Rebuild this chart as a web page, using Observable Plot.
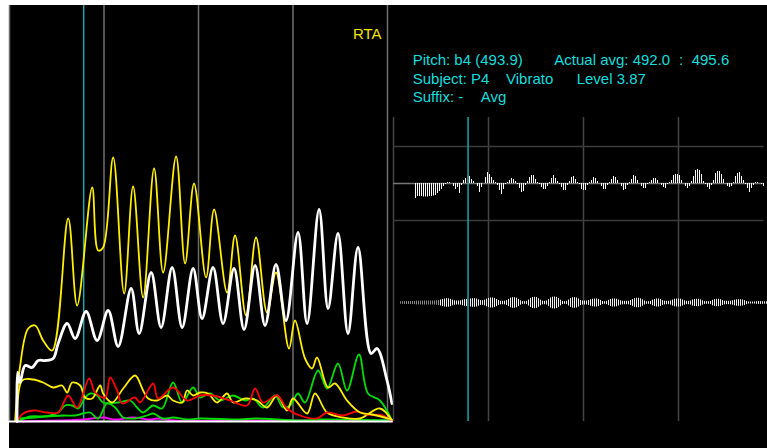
<!DOCTYPE html>
<html><head><meta charset="utf-8">
<script src="https://cdn.jsdelivr.net/npm/d3@7"></script>
<script src="https://cdn.jsdelivr.net/npm/@observablehq/plot@0.6"></script>
<style>
html,body{margin:0;padding:0;background:#fff;}
#wrap{position:relative;width:767px;height:448px;overflow:hidden;background:#fff;}
#bg{position:absolute;left:9px;top:5px;right:0;bottom:0;background:#000;}
.info{position:absolute;color:#12dede;font:15px "Liberation Sans",Arial,sans-serif;line-height:19px;white-space:pre;}
</style></head>
<body><div id="wrap"><div id="bg"></div></div>
<script>
// ---- time grid (seconds) ----
const gridTimes = [0, 1, 2, 3, 4];
const rightGridTimes = [0, 1, 2, 3];
const cursorTime = 0.785;

// ---- left panel: harmonic levels over time [t (s), level] ----
const whiteCurve = [[0.08,0],[0.085,49],[0.11,39],[0.166,56],[0.24,54],[0.304,61],[0.378,61],[0.462,63],[0.515,78],[0.61,98],[0.695,83],[0.811,110],[0.927,81],[1.044,111],[1.15,75],[1.287,133],[1.372,88],[1.499,149],[1.604,94],[1.721,154],[1.827,94],[1.943,153],[2.038,103],[2.154,154],[2.26,98],[2.376,153],[2.482,92],[2.599,156],[2.704,96],[2.82,157],[2.926,101],[3.053,189],[3.149,98],[3.276,212],[3.371,113],[3.476,188],[3.582,88],[3.688,174],[3.826,68],[3.889,73],[3.995,41],[4.047,18]];
const yellowHigh = [[0.06,1],[0.11,54],[0.198,93],[0.272,96],[0.356,81],[0.452,71],[0.621,203],[0.716,116],[0.875,234],[0.938,171],[0.991,174],[1.097,264],[1.213,128],[1.308,235],[1.414,124],[1.53,253],[1.626,149],[1.763,265],[1.858,158],[1.953,238],[2.08,144],[2.165,212],[2.302,129],[2.387,186],[2.503,106],[2.609,184],[2.725,109],[2.82,149],[2.958,73],[3.021,101],[3.127,63],[3.202,53],[3.254,64],[3.371,34],[3.445,38],[3.572,21],[3.709,9],[3.836,7],[4.047,2]];
const yellowLow = [[0.08,0],[0.134,41],[0.25,42],[0.356,39],[0.462,34],[0.557,36],[0.61,29],[0.663,39],[0.748,36],[0.8,24],[0.875,23],[0.959,36],[0.991,28],[1.086,19],[1.203,33],[1.329,46],[1.414,31],[1.467,23],[1.562,21],[1.668,26],[1.731,21],[1.827,19],[1.879,31],[1.943,26],[2.017,29],[2.101,28],[2.197,19],[2.302,28],[2.366,19],[2.493,23],[2.62,21],[2.725,14],[2.831,26],[2.937,11],[3.0,23],[3.149,8],[3.233,28],[3.36,9],[3.529,4],[3.709,3],[3.92,13],[4.047,1]];
const redCurve = [[0.08,0],[0.145,8],[0.25,11],[0.399,9],[0.515,9],[0.621,26],[0.716,14],[0.843,43],[0.906,29],[1.012,24],[1.065,44],[1.139,31],[1.192,18],[1.329,24],[1.382,19],[1.52,38],[1.573,23],[1.731,34],[1.879,21],[2.017,26],[2.154,26],[2.334,21],[2.514,16],[2.599,33],[2.683,19],[2.831,26],[2.937,13],[3.074,6],[3.254,3],[3.36,9],[3.529,6],[3.677,10],[3.783,7],[3.952,6],[4.047,0]];
const greenHigh = [[0.11,3],[0.43,6],[0.515,9],[0.589,16],[0.663,16],[0.727,13],[0.8,24],[0.854,28],[0.927,26],[0.991,19],[1.15,19],[1.277,21],[1.35,14],[1.414,9],[1.52,16],[1.615,13],[1.731,39],[1.827,19],[1.943,34],[2.017,24],[2.123,28],[2.228,21],[2.366,26],[2.493,21],[2.578,23],[2.683,14],[2.81,26],[2.895,14],[2.969,16],[3.053,28],[3.127,19],[3.265,51],[3.36,33],[3.476,58],[3.572,31],[3.698,67],[3.794,28],[3.92,21],[4.047,1]];
const greenLow = [[0.11,1],[0.219,5],[0.378,5],[0.568,6],[0.695,6],[0.779,8],[0.854,9],[0.938,3],[1.033,18],[1.118,14],[1.203,4],[1.329,3],[1.456,6],[1.52,8],[1.626,3],[1.731,4],[1.879,2],[2.017,3],[2.44,2],[2.599,3],[3.074,1],[3.286,2],[4.047,1]];
const magentaCurve = [[0.08,0],[0.536,1],[0.779,2],[0.991,4],[1.118,2],[1.308,4],[1.488,2],[1.562,3],[1.753,1],[2.546,1],[4.047,1]];

// ---- right panel: per-frame pitch deviation and amplitude envelope ----
const frameStep = 2 / 95;
const pitchStart = 22 / 95;
const pitchDev = [-15,-13,-13,-13,-13.5,-13.5,-13.5,-13,-13,-12.5,-12,-10,-8,-6,-3,
 -1,1,1,0, -3,-6,-4,-10,-2, 3,5,8,7,4,2,0, -3,-9,-4,0, 6,11,9,6,3,1, -2,-7,-11,-6,-1,
 1,3,5,4,2, -1,-5,-9,-8,-2, 2,6,8,8,4,1, -1,-4,-6,-6,-3, 1,5,8,5,2, -1,-4,-7,-7,-2,
 2,6,7,4,1, -1,-6,-7,-7,-2, 1,3,6,5,2, 0,-3,-6,-6,-2, 1,4,7,6,3, 0,-3,-7,-6,-2,
 1,4,8,7,3, 0,-3,-5,-5,-1, 1,3,5,5,3, 0,-2,-4,-5,-1, 1,3,8,9,9,8,3, 0,-3,-5,-3,
 2,7,13,14,13,9,2, -1,-4,-6,-2, 3,10,12,12,9,4, 0,-3,-4,-3,1, 7,10,11,7,3,
 -1,-5,-9,-5,-2, 1,1,0,-1,-3];
const envStart = 7 / 95;
const envOnset = 0.49;
const envelope = [1.2,1.3,1.4,1.5,1.5,1.5,1.6,1.6, 1.8,1.8,1.9,2,2,2,2,2,2,2,2.2,2.5,
 3,3.6,4,4.3,4.2,3.6,2.8,2.2, 2,2,2.2,2.8, 3.3,3.5,3.6, 4,4.3,4.3,4,3.2, 2.4,2.3,2.8,
 3.8,4.6,5,5,4.6,3.6,2.4, 1.8,1.7,1.8,2.4, 3.6,4.8,5.3,5.3,4.8,3.6,2.2, 1.4,1.3,1.6,
 3,4.6,5.5,5.7,5.4,4.3,2.8, 1.8,1.7,2, 3.4,5,5.8,6,5.6,4.4,2.8, 1.6,1.3,1.6,
 3,4.4,5.2,5.3,5,4,2.6, 2,2,2,2.4, 3.2,3.8,4,4,3.6,2.6, 1.5,1.3,1.6,
 2.6,3.5,4,4,3.8,3,2.2, 1.8,1.7,1.7,1.8,2.4, 3.4,4.3,4.7,4.7,4.2,3.2,2, 1.3,1.3,1.6,
 2.8,3.6,4,4,3.5,2.4, 1.8,1.7,1.7,2, 3,3.7,4,4,3.8,3,2.2, 1.7,1.7,2,
 3,3.5,3.7,3.7,3.2,2.2, 1.4,1.3,1.3,1.6, 2.8,3.4,3.7,3.7,3.3,2.4, 1.8,1.7,1.7,1.8,2.2,
 2.8,3.2,3.3,3.3,3,2.4,1.6, 1.1,1,1,1.1, 1.3,1.4,1.4,1.3,1.2,1.2];

// ---- info text ----
const infoLines = [
  [["Pitch: b4 (493.9)", 412.7], ["Actual avg: 492.0", 554.3], [":", 679], ["495.6", 691.7]],
  [["Subject: P4", 412.7], ["Vibrato", 506], ["Level 3.87", 576.7]],
  [["Suffix: -", 412.7], ["Avg", 480.7]]
];
const infoTops = [49.6, 68.6, 87];

const W = 767, H = 448;
const FONT = "Liberation Sans, Arial, sans-serif";
const CYAN_LINE = "#1aa8a8";
const layerStyle = "position:absolute;left:0;top:0;background:transparent;overflow:visible;";
const wrap = document.getElementById("wrap");
const curve = "catmull-rom";
const lx = d => d[0], ly = d => d[1];

// left panel
const left = Plot.plot({
  width: W, height: H,
  marginLeft: 9, marginRight: W - 387, marginTop: 5, marginBottom: H - 421,
  x: {domain: [0, 4], axis: null},
  y: {domain: [0, 416], axis: null},
  style: layerStyle,
  marks: [
    Plot.ruleX(gridTimes, {stroke: "#6e6e6e", strokeWidth: 1.5}),
    Plot.ruleX([cursorTime], {stroke: CYAN_LINE, strokeWidth: 1.5}),
    Plot.line(magentaCurve, {x: lx, y: ly, stroke: "#ff00ff", strokeWidth: 1.8, curve}),
    Plot.line(greenLow, {x: lx, y: ly, stroke: "#00dd00", strokeWidth: 1.8, curve}),
    Plot.line(greenHigh, {x: lx, y: ly, stroke: "#00dd00", strokeWidth: 1.8, curve}),
    Plot.line(yellowLow, {x: lx, y: ly, stroke: "#ffee00", strokeWidth: 1.8, curve}),
    Plot.line(redCurve, {x: lx, y: ly, stroke: "#ff0000", strokeWidth: 1.8, curve}),
    Plot.line(yellowHigh, {x: lx, y: ly, stroke: "#ffee00", strokeWidth: 1.8, curve}),
    Plot.line(whiteCurve, {x: lx, y: ly, stroke: "#ffffff", strokeWidth: 2.8, curve}),
    Plot.ruleY([0], {x1: 0, x2: 4.06, stroke: "#ffffff", strokeWidth: 2}),
    Plot.text(["RTA"], {frameAnchor: "top-right", textAnchor: "end", lineAnchor: "top", dx: -6, dy: 22.6,
      fill: "#f2e400", fontSize: 15, fontFamily: FONT})
  ]
});
wrap.appendChild(left);

// right panel grid
const rightX = {domain: [0, 3.9], axis: null};
const rML = 393, rMR = W - (393 + 3.9 * 95);
const rightGrid = Plot.plot({
  width: W, height: H,
  marginLeft: rML, marginRight: rMR, marginTop: 117, marginBottom: H - 421,
  x: rightX, y: {axis: null},
  style: layerStyle,
  marks: [Plot.ruleX(rightGridTimes, {stroke: "#444", strokeWidth: 1.5})]
});
wrap.appendChild(rightGrid);

// pitch deviation bars
const pitchRows = pitchDev.map((v, i) => ({t: pitchStart + i * frameStep, v}));
const cursorPitch = d3.least(pitchRows, d => Math.abs(d.t - cursorTime));
const pitchPlot = Plot.plot({
  width: W, height: H,
  marginLeft: rML, marginRight: rMR, marginTop: 146, marginBottom: H - 220,
  x: rightX, y: {domain: [-37, 37], axis: null},
  style: layerStyle,
  marks: [
    Plot.ruleY([-37, 37], {stroke: "#3c3c3c", strokeWidth: 1.5}),
    Plot.ruleY([0], {stroke: "#777", strokeWidth: 1.5}),
    Plot.ruleX(pitchRows, {x: "t", y1: 0, y2: "v", stroke: d => d === cursorPitch ? "#ff0000" : "#ffffff", strokeWidth: 1})
  ]
});
wrap.appendChild(pitchPlot);

// amplitude envelope bars
const envRows = envelope.map((v, i) => ({t: envStart + i * frameStep, v}));
const cursorEnv = d3.least(envRows, d => Math.abs(d.t - cursorTime));
const envPlot = Plot.plot({
  width: W, height: H,
  marginLeft: rML, marginRight: rMR, marginTop: 292.5, marginBottom: H - 312.5,
  x: rightX, y: {domain: [-10, 10], axis: null},
  style: layerStyle,
  marks: [
    Plot.ruleX(envRows, {x: "t", y1: d => -d.v, y2: "v", strokeWidth: 1,
      stroke: d => d === cursorEnv ? "#ff0000" : d.t < envOnset ? "#8a8a8a" : "#f2f2f2"})
  ]
});
wrap.appendChild(envPlot);

// cursor on top
const cursorPlot = Plot.plot({
  width: W, height: H,
  marginLeft: rML, marginRight: rMR, marginTop: 117, marginBottom: H - 421,
  x: rightX, y: {axis: null},
  style: layerStyle,
  marks: [Plot.ruleX([cursorTime], {stroke: CYAN_LINE, strokeWidth: 1.5})]
});
wrap.appendChild(cursorPlot);

// info text block
infoLines.forEach((line, li) => {
  line.forEach(([txt, x]) => {
    const s = document.createElement("div");
    s.className = "info";
    s.textContent = txt;
    s.style.left = x + "px";
    s.style.top = infoTops[li] + "px";
    wrap.appendChild(s);
  });
});
</script></body></html>
